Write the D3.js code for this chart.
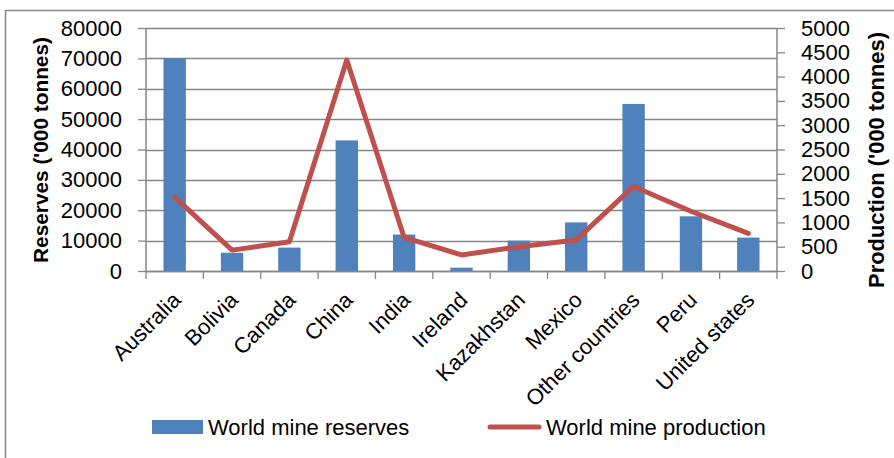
<!DOCTYPE html>
<html>
<head>
<meta charset="utf-8">
<script src="https://cdn.jsdelivr.net/npm/d3@7"></script>
<style>
  html, body { margin: 0; padding: 0; background: #fff; }
  svg text { font-family: "Liberation Sans", Arial, sans-serif; fill: #000; }
</style>
</head>
<body>
<svg id="chart" width="894" height="458"></svg>
<script>
// Zinc mine reserves and production by country
const countries = ["Australia", "Bolivia", "Canada", "China", "India", "Ireland",
  "Kazakhstan", "Mexico", "Other countries", "Peru", "United states"];
const reserves = [70000, 6000, 7700, 43000, 12000, 1100, 10000, 16000, 55000, 18000, 11000];
const production = [1520, 430, 600, 4340, 690, 330, 500, 640, 1740, 1230, 775];
const reserveTicks = [0, 10000, 20000, 30000, 40000, 50000, 60000, 70000, 80000];
const productionTicks = [0, 500, 1000, 1500, 2000, 2500, 3000, 3500, 4000, 4500, 5000];
const seriesNames = ["World mine reserves", "World mine production"];
const axisTitles = ["Reserves ('000 tonnes)", "Production ('000 tonnes)"];

const blue = "#4F81BD", red = "#C0504D", grey = "#868686";
const svg = d3.select("#chart");

const plot = { left: 146, right: 777, top: 28, bottom: 271 };

const x = d3.scaleBand().domain(countries).range([plot.left, plot.right]).paddingInner(0.61).paddingOuter(0.305);
const xBand = d3.scaleBand().domain(countries).range([plot.left, plot.right]);
const yL = d3.scaleLinear().domain([0, 80000]).range([plot.bottom, plot.top]);
const yR = d3.scaleLinear().domain([0, 5000]).range([plot.bottom, plot.top]);

// outer frame
svg.append("rect").attr("x", 5.5).attr("y", 10.5).attr("width", 900).attr("height", 470)
  .attr("fill", "#fff").attr("stroke", grey).attr("stroke-width", 1.5);

// horizontal gridlines
svg.append("g").selectAll("line").data(reserveTicks).join("line")
  .attr("x1", plot.left).attr("x2", plot.right)
  .attr("y1", d => Math.round(yL(d)) + 0.5).attr("y2", d => Math.round(yL(d)) + 0.5)
  .attr("stroke", grey).attr("stroke-width", 1.3);

// left axis
const axL = svg.append("g").attr("transform", `translate(${plot.left},0)`)
  .call(d3.axisLeft(yL).tickValues(reserveTicks).tickSize(8).tickPadding(16).tickFormat(d3.format("d")));
// right axis
const axR = svg.append("g").attr("transform", `translate(${plot.right},0)`)
  .call(d3.axisRight(yR).tickValues(productionTicks).tickSize(8).tickPadding(16).tickFormat(d3.format("d")));
[axL, axR].forEach(g => {
  g.select(".domain").attr("stroke", grey).attr("stroke-width", 1.5);
  g.selectAll(".tick line").attr("stroke", grey).attr("stroke-width", 1.3);
  g.selectAll(".tick text").style("font-size", "22px").attr("fill", "#000");
});
axL.select(".domain").attr("d", `M0,${plot.top}V${plot.bottom}`);
axR.select(".domain").attr("d", `M0,${plot.top}V${plot.bottom}`);

// bars
svg.append("g").selectAll("rect").data(countries).join("rect")
  .attr("x", d => x(d)).attr("width", x.bandwidth())
  .attr("y", (d, i) => yL(reserves[i]))
  .attr("height", (d, i) => yL(0) - yL(reserves[i]))
  .attr("fill", blue);

// bottom axis
const axB = svg.append("g").attr("transform", `translate(0,${plot.bottom})`);
axB.append("line").attr("x1", plot.left).attr("x2", plot.right).attr("y1", 0.5).attr("y2", 0.5)
  .attr("stroke", grey).attr("stroke-width", 1.5);
const boundaries = countries.map(c => xBand(c)).concat([plot.right]);
axB.selectAll("line.tk").data(boundaries).join("line").attr("class", "tk")
  .attr("x1", d => d).attr("x2", d => d).attr("y1", 0).attr("y2", 8)
  .attr("stroke", grey).attr("stroke-width", 1.3);
axB.selectAll("text").data(countries).join("text")
  .attr("transform", d => `translate(${xBand(d) + xBand.bandwidth() / 2 + 2},${25}) rotate(-45)`)
  .attr("text-anchor", "end").attr("dy", "0.35em")
  .style("font-size", "22px").text(d => d);

// production line
const line = d3.line()
  .x((d, i) => xBand(countries[i]) + xBand.bandwidth() / 2)
  .y(d => yR(d));
svg.append("path").datum(production).attr("d", line)
  .attr("fill", "none").attr("stroke", red).attr("stroke-width", 5)
  .attr("stroke-linejoin", "round").attr("stroke-linecap", "round");

// axis titles, sized to a set length
function fitTitle(t, len) {
  const w = t.node().getComputedTextLength();
  t.style("font-size", (21 * len / w) + "px");
}
const tL = svg.append("text").attr("transform", "translate(41,150) rotate(-90)")
  .attr("text-anchor", "middle").attr("dy", "0.35em")
  .style("font-size", "21px").style("font-weight", "bold").text(axisTitles[0]);
fitTitle(tL, 226);
const tR = svg.append("text").attr("transform", "translate(876,160) rotate(-90)")
  .attr("text-anchor", "middle").attr("dy", "0.35em")
  .style("font-size", "21px").style("font-weight", "bold").text(axisTitles[1]);
fitTitle(tR, 256);

// legend
const leg = svg.append("g");
leg.append("rect").attr("x", 152).attr("y", 420).attr("width", 51).attr("height", 14).attr("fill", blue);
leg.append("text").attr("x", 208).attr("y", 427).attr("dy", "0.35em")
  .style("font-size", "22px").text(seriesNames[0]);
leg.append("line").attr("x1", 490).attr("x2", 539).attr("y1", 427).attr("y2", 427)
  .attr("stroke", red).attr("stroke-width", 5).attr("stroke-linecap", "round");
leg.append("text").attr("x", 546).attr("y", 427).attr("dy", "0.35em")
  .style("font-size", "22px").text(seriesNames[1]);
</script>
</body>
</html>
